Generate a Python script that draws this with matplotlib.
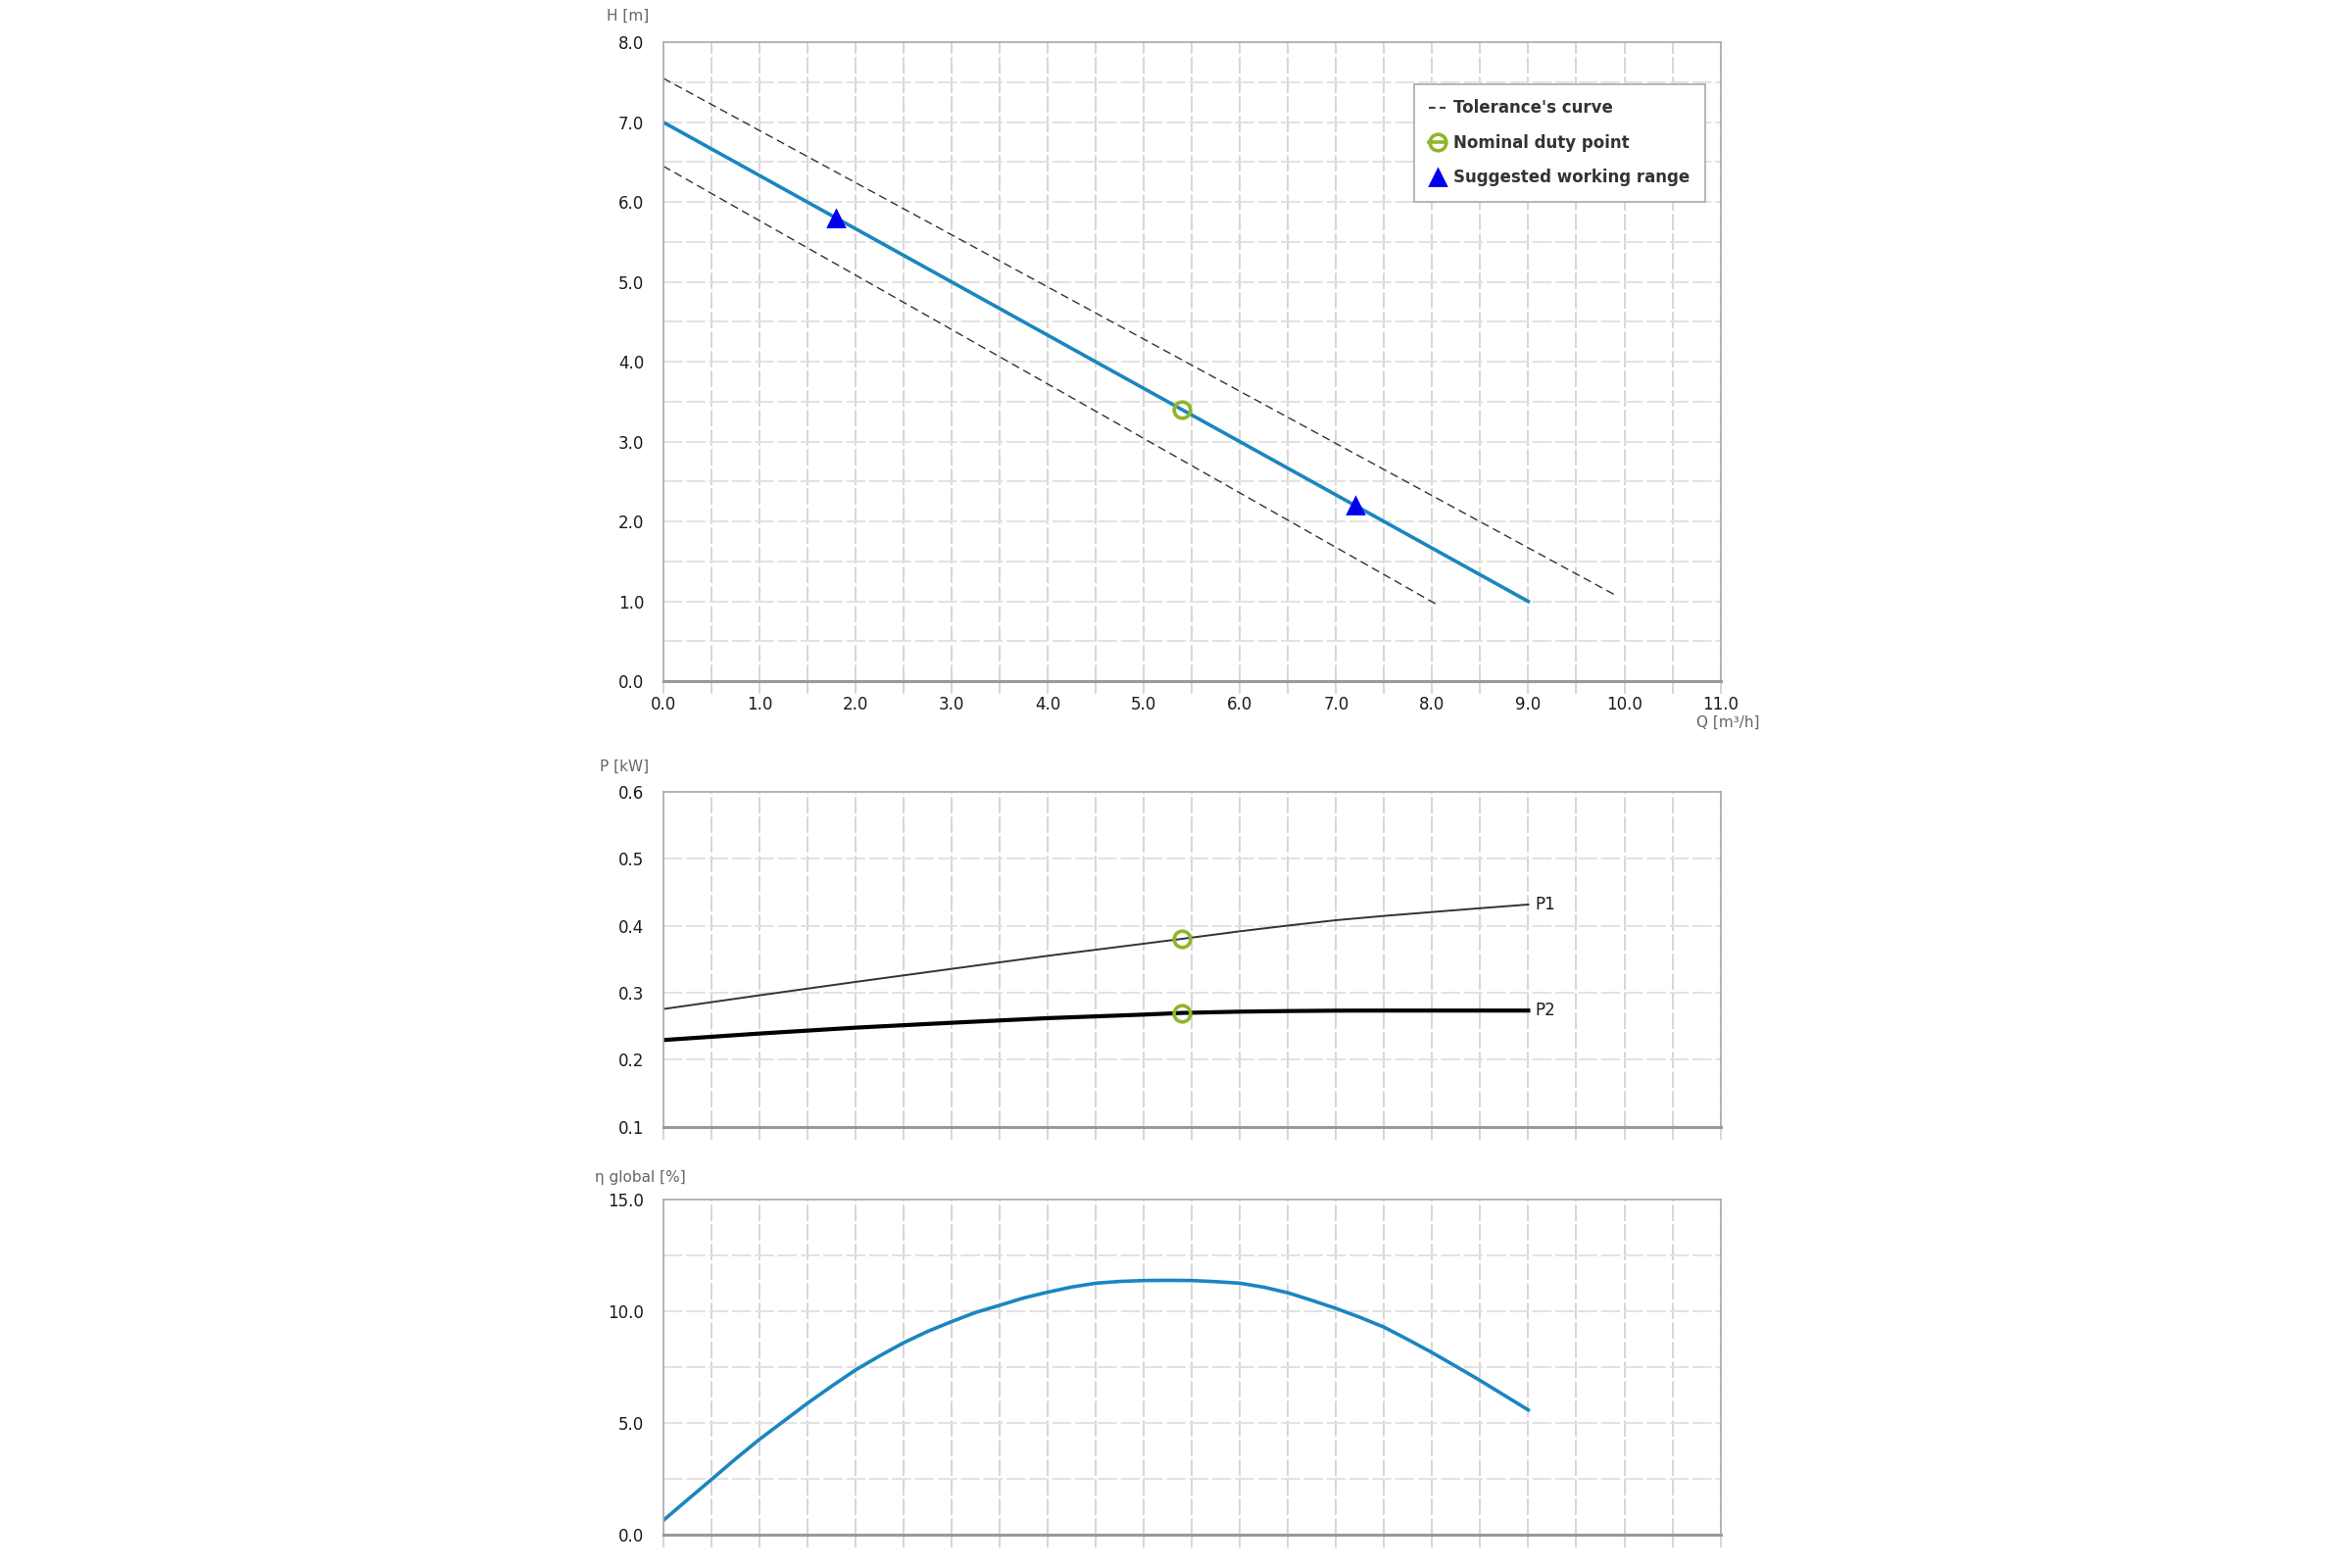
import matplotlib
matplotlib.use("Agg")
import matplotlib.pyplot as plt
import matplotlib.lines as mlines
from matplotlib.ticker import MultipleLocator

plt.rcParams.update({
    "font.family": "DejaVu Sans",
    "font.size": 6,
})

# head curve H(Q)
q_head = [0.0, 9.0]
h_head = [7.0, 1.0]
q_tol_hi = [0.0, 9.92]
h_tol_hi = [7.55, 1.07]
q_tol_lo = [0.0, 8.05]
h_tol_lo = [6.45, 0.96]
q_range = [1.8, 7.2]
h_range = [5.8, 2.2]
q_duty = 5.4
h_duty = 3.4

# power curves
q_pow = [0.0, 1.0, 2.0, 3.0, 4.0, 5.0, 5.4, 6.0, 6.5, 7.0, 7.5, 8.0, 8.5, 9.0]
p1 = [0.2756, 0.2961, 0.3161, 0.3356, 0.3551, 0.3732, 0.3805, 0.3917, 0.4003,
      0.4083, 0.4147, 0.4205, 0.4262, 0.4317]
p2 = [0.2293, 0.2390, 0.2478, 0.2551, 0.2620, 0.2673, 0.2698, 0.2717, 0.2726,
      0.2732, 0.2733, 0.2733, 0.2733, 0.2733]
p1_duty = 0.3805
p2_duty = 0.2698

# global efficiency
q_eta = [0.0, 0.25, 0.5, 0.75, 1.0, 1.25, 1.5, 1.75, 2.0, 2.25, 2.5, 2.75,
         3.0, 3.25, 3.5, 3.75, 4.0, 4.25, 4.5, 4.75, 5.0, 5.25, 5.5, 5.75,
         6.0, 6.25, 6.5, 6.75, 7.0, 7.25, 7.5, 7.75, 8.0, 8.25, 8.5, 8.75, 9.0]
eta = [0.62, 1.54, 2.45, 3.37, 4.25, 5.06, 5.87, 6.63, 7.36, 7.99, 8.58, 9.09,
       9.53, 9.94, 10.26, 10.59, 10.85, 11.08, 11.25, 11.33, 11.37, 11.38, 11.37, 11.32,
       11.25, 11.07, 10.82, 10.48, 10.12, 9.72, 9.28, 8.72, 8.14, 7.52, 6.89, 6.23, 5.57]

BLUE = "#1a86c0"
GREEN = "#8fb52b"
GRID_V = "#cfcfcf"
GRID_H = "#e2e2e2"
SPINE = "#aaaaaa"
LABEL = "#666666"
TEXT = "#1a1a1a"

fig = plt.figure(figsize=(12, 8), dpi=200)
ax_h = fig.add_axes([0.282, 0.5655, 0.4495, 0.4075])
ax_p = fig.add_axes([0.282, 0.2815, 0.4495, 0.2135])
ax_e = fig.add_axes([0.282, 0.0215, 0.4495, 0.2135])


def style_axes(ax, ymin, ymax, ymajor, yminor, show_x):
    ax.set_xlim(0, 11)
    ax.set_ylim(ymin, ymax)
    ax.xaxis.set_major_locator(MultipleLocator(1.0))
    ax.xaxis.set_minor_locator(MultipleLocator(0.5))
    ax.yaxis.set_major_locator(MultipleLocator(ymajor))
    ax.yaxis.set_minor_locator(MultipleLocator(yminor))
    ax.xaxis.grid(True, which="both", color=GRID_V, linestyle=(0, (10, 2)), linewidth=0.6)
    ax.yaxis.grid(True, which="both", color=GRID_H, linestyle=(0, (10, 2)), linewidth=0.7)
    ax.set_axisbelow(True)
    for side in ["top", "right", "left"]:
        ax.spines[side].set_color(SPINE)
        ax.spines[side].set_linewidth(0.6)
    ax.spines["bottom"].set_color("#999999")
    ax.spines["bottom"].set_linewidth(1.1)
    ax.tick_params(axis="x", which="both", length=4.5, width=0.6, color=GRID_V,
                   pad=1, labelcolor=TEXT, labelbottom=show_x)
    ax.tick_params(axis="y", which="both", length=0, pad=7, labelcolor=TEXT)


style_axes(ax_h, 0, 8, 1.0, 0.5, True)
ax_h.xaxis.set_major_formatter(lambda v, p: f"{v:.1f}")
ax_h.yaxis.set_major_formatter(lambda v, p: f"{v:.1f}")

ax_h.plot(q_tol_hi, h_tol_hi, color="#333333", lw=0.5, linestyle=(0, (6, 3.5)))
ax_h.plot(q_tol_lo, h_tol_lo, color="#333333", lw=0.5, linestyle=(0, (6, 3.5)))
ax_h.plot(q_head, h_head, color=BLUE, lw=1.3)
ax_h.plot(q_range, h_range, linestyle="None", marker="^", ms=6, color="#0000ee")
ax_h.plot([q_duty], [h_duty], linestyle="None", marker="o", ms=6,
          markerfacecolor="none", markeredgecolor=GREEN, markeredgewidth=1.3)

handles = [
    mlines.Line2D([], [], color="#444444", lw=0.8, linestyle=(0, (3, 2))),
    mlines.Line2D([], [], color=GREEN, lw=1.3, marker="o", ms=6,
                  markerfacecolor="none", markeredgecolor=GREEN, markeredgewidth=1.3),
    mlines.Line2D([], [], color="#0000ee", linestyle="None", marker="^", ms=6),
]
leg = ax_h.legend(handles, ["Tolerance's curve", "Nominal duty point", "Suggested working range"],
                  loc="upper right", bbox_to_anchor=(0.986, 0.935), borderaxespad=0,
                  fancybox=False, edgecolor=SPINE, framealpha=1, handlelength=1.0,
                  handletextpad=0.5, borderpad=0.95, labelspacing=1.05,
                  prop={"weight": "bold", "size": 6})
leg.get_frame().set_linewidth(0.6)
for t in leg.get_texts():
    t.set_color("#333333")

style_axes(ax_p, 0.1, 0.6, 0.1, 0.1, False)
ax_p.yaxis.set_major_formatter(lambda v, p: f"{v:.1f}")
ax_p.plot(q_pow, p1, color="#333333", lw=0.7)
ax_p.plot(q_pow, p2, color="black", lw=1.5)
ax_p.plot([q_duty, q_duty], [p1_duty, p2_duty], linestyle="None", marker="o", ms=6,
          markerfacecolor="none", markeredgecolor=GREEN, markeredgewidth=1.3)
ax_p.text(q_pow[-1] + 0.07, p1[-1], "P1", va="center", ha="left", color=TEXT)
ax_p.text(q_pow[-1] + 0.07, p2[-1], "P2", va="center", ha="left", color=TEXT)

style_axes(ax_e, 0, 15, 5.0, 2.5, False)
ax_e.yaxis.set_major_formatter(lambda v, p: f"{v:.1f}")
ax_e.plot(q_eta, eta, color=BLUE, lw=1.3)

fig.text(0.258, 0.990, "H [m]", color=LABEL, fontsize=5.5, va="center", ha="left")
fig.text(0.748, 0.539, "Q [m³/h]", color=LABEL, fontsize=5.5, va="center", ha="right")
fig.text(0.255, 0.511, "P [kW]", color=LABEL, fontsize=5.5, va="center", ha="left")
fig.text(0.253, 0.249, "η global [%]", color=LABEL, fontsize=5.5, va="center", ha="left")

fig.savefig("out.png", dpi=200, facecolor="white")
